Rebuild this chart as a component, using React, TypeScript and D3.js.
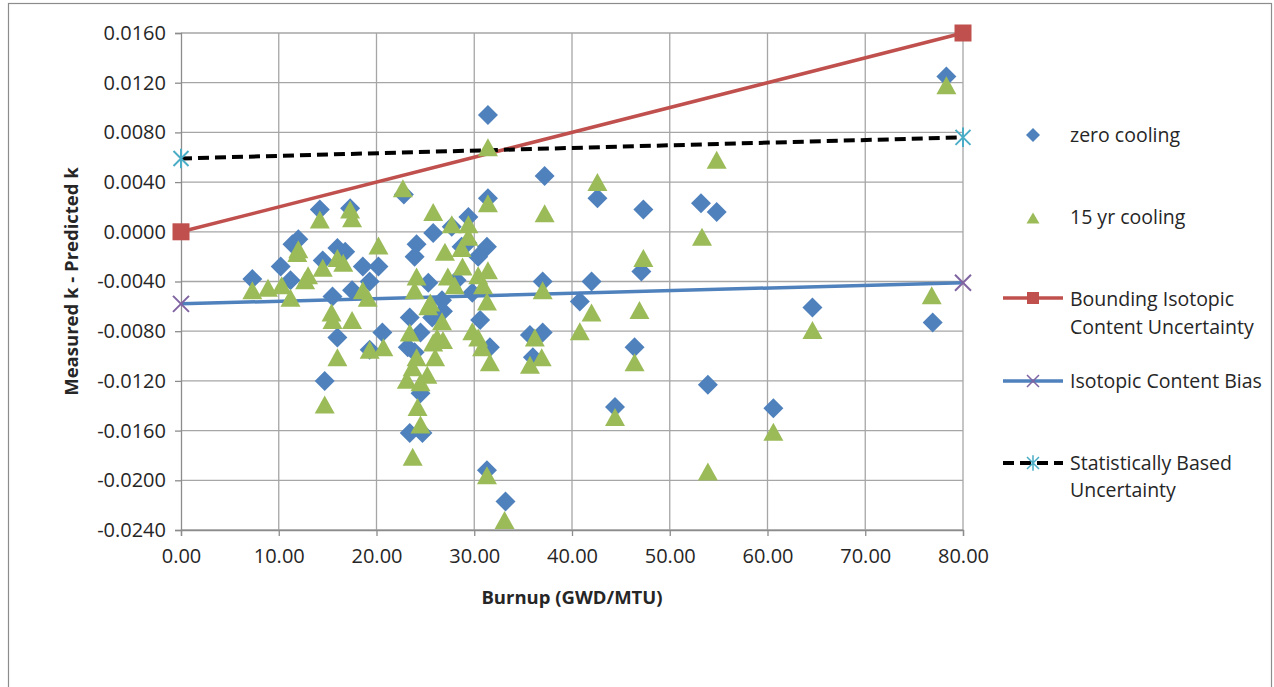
import React, { useEffect, useRef } from "react";
import * as d3 from "d3";

// zero cooling series (burnup GWD/MTU, measured k - predicted k)
const zeroBurnup = [7.3, 10.2, 11.2, 11.4, 12.0, 14.2, 14.5, 15.5, 14.7, 16.0, 16.0, 16.8, 17.3, 17.5, 18.6, 20.2, 19.3, 20.6, 19.3, 22.8, 23.2, 23.9, 24.1, 23.9, 23.4, 24.5, 23.4, 24.7, 24.5, 25.3, 25.8, 25.7, 26.8, 26.7, 27.7, 28.2, 28.7, 29.3, 29.4, 29.8, 30.4, 30.6, 31.3, 31.4, 31.4, 31.6, 31.3, 33.2, 35.7, 36.0, 37.0, 37.0, 37.2, 40.8, 42.0, 42.6, 44.4, 46.4, 47.1, 47.3, 53.2, 53.9, 54.8, 60.6, 64.6, 76.9, 78.3];
const zeroDelta = [-0.0038, -0.0028, -0.0039, -0.0010, -0.0006, 0.0018, -0.0023, -0.0052, -0.0120, -0.0085, -0.0013, -0.0016, 0.0019, -0.0047, -0.0028, -0.0028, -0.0040, -0.0081, -0.0095, 0.0030, -0.0093, -0.0097, -0.0010, -0.0020, -0.0069, -0.0081, -0.0162, -0.0162, -0.0130, -0.0041, -0.0001, -0.0069, -0.0064, -0.0055, 0.0004, -0.0039, -0.0012, -0.0009, 0.0012, -0.0049, -0.0020, -0.0071, -0.0012, 0.0027, 0.0094, -0.0093, -0.0192, -0.0217, -0.0083, -0.0101, -0.0081, -0.0040, 0.0045, -0.0056, -0.0040, 0.0027, -0.0141, -0.0093, -0.0032, 0.0018, 0.0023, -0.0123, 0.0016, -0.0142, -0.0061, -0.0073, 0.0125];

// 15 yr cooling series
const coolBurnup = [7.3, 8.9, 10.3, 11.2, 11.9, 12.0, 12.7, 13.0, 14.2, 14.5, 15.4, 15.5, 14.7, 16.0, 16.0, 16.6, 17.3, 17.5, 17.5, 18.6, 19.1, 19.3, 20.2, 20.7, 22.7, 23.1, 23.7, 23.4, 23.7, 23.9, 24.1, 24.1, 24.2, 24.5, 24.5, 25.2, 25.3, 25.5, 25.8, 25.8, 26.0, 26.2, 26.7, 26.8, 27.0, 27.3, 27.7, 28.0, 28.8, 28.7, 29.4, 29.4, 29.8, 30.4, 30.4, 30.8, 30.9, 31.3, 31.4, 31.4, 31.4, 31.6, 31.3, 33.1, 35.7, 36.2, 36.9, 37.0, 37.2, 40.8, 42.0, 42.6, 44.4, 46.4, 46.9, 47.3, 53.3, 53.9, 54.8, 60.6, 64.6, 76.8, 78.3];
const coolDelta = [-0.0047, -0.0045, -0.0043, -0.0053, -0.0017, -0.0014, -0.0039, -0.0035, 0.0010, -0.0029, -0.0065, -0.0071, -0.0139, -0.0101, -0.0021, -0.0025, 0.0018, 0.0011, -0.0071, -0.0047, -0.0053, -0.0095, -0.0011, -0.0093, 0.0035, -0.0119, -0.0181, -0.0081, -0.0109, -0.0047, -0.0036, -0.0101, -0.0141, -0.0121, -0.0155, -0.0115, -0.0060, -0.0057, 0.0016, -0.0089, -0.0101, -0.0085, -0.0072, -0.0087, -0.0016, -0.0036, 0.0006, -0.0043, -0.0028, -0.0013, 0.0006, -0.0004, -0.0080, -0.0035, -0.0085, -0.0093, -0.0043, -0.0056, -0.0031, 0.0068, 0.0023, -0.0105, -0.0196, -0.0232, -0.0107, -0.0085, -0.0101, -0.0047, 0.0015, -0.0080, -0.0065, 0.0040, -0.0149, -0.0105, -0.0063, -0.0021, -0.0004, -0.0193, 0.0058, -0.0161, -0.0079, -0.0051, 0.0118];

// limit lines
const lineBurnup = [0, 80];
const boundingDelta = [0, 0.016];
const biasDelta = [-0.0058, -0.0041];
const statDelta = [0.0059, 0.0076];

const xTicks = [0, 10, 20, 30, 40, 50, 60, 70, 80];
const yTicks = [0.016, 0.012, 0.008, 0.004, 0, -0.004, -0.008, -0.012, -0.016, -0.02, -0.024];

const FONT = "'Open Sans', 'Liberation Sans', sans-serif";
const BLUE = "#4f81bd";
const GREEN = "#9bbb59";
const RED = "#c0504d";
const PURPLE = "#8064a2";
const CYAN = "#4bacc6";
const GRID = "#a6a6a6";

const diamond = (r: number) => `M0,${-r}L${r},0L0,${r}L${-r},0Z`;
const triangle = (w: number, h: number) => `M0,${-h / 2}L${w / 2},${h / 2}L${-w / 2},${h / 2}Z`;
const cross = (r: number) => `M${-r},${-r}L${r},${r}M${-r},${r}L${r},${-r}`;
const star = (r: number) => `M${-r},${-r}L${r},${r}M${-r},${r}L${r},${-r}M0,${-r * 1.3}L0,${r * 1.3}`;

const App = () => {
  const ref = useRef<SVGSVGElement | null>(null);

  useEffect(() => {
    const svg = d3.select(ref.current);
    svg.selectAll("*").remove();

    const x = d3.scaleLinear().domain([0, 80]).range([181, 963]);
    const y = d3.scaleLinear().domain([-0.024, 0.016]).range([530, 33]);

    // outer chart border
    svg
      .append("rect")
      .attr("x", 8.5)
      .attr("y", 3.5)
      .attr("width", 1263)
      .attr("height", 720)
      .attr("fill", "white")
      .attr("stroke", "#8c8c8c")
      .attr("stroke-width", 1.2);

    // gridlines
    svg
      .append("g")
      .selectAll("line")
      .data(yTicks)
      .enter()
      .append("line")
      .attr("x1", x(0))
      .attr("x2", x(80))
      .attr("y1", (d) => y(d))
      .attr("y2", (d) => y(d))
      .attr("stroke", GRID)
      .attr("stroke-width", 1.3);

    svg
      .append("g")
      .selectAll("line")
      .data(xTicks.slice(1))
      .enter()
      .append("line")
      .attr("x1", (d) => x(d))
      .attr("x2", (d) => x(d))
      .attr("y1", y(0.016))
      .attr("y2", y(-0.024))
      .attr("stroke", GRID)
      .attr("stroke-width", 1.3);

    // axes
    const yAxis = svg
      .append("g")
      .attr("transform", `translate(${x(0)},0)`)
      .call(
        d3
          .axisLeft(y)
          .tickValues(yTicks)
          .tickSizeOuter(0)
          .tickSize(6)
          .tickPadding(9)
          .tickFormat((d) => (+d).toFixed(4))
      );
    const xAxis = svg
      .append("g")
      .attr("transform", `translate(0,${y(-0.024)})`)
      .call(
        d3
          .axisBottom(x)
          .tickValues(xTicks)
          .tickSizeOuter(0)
          .tickSize(6)
          .tickPadding(13)
          .tickFormat((d) => (+d).toFixed(2))
      );
    [xAxis, yAxis].forEach((g) => {
      g.selectAll("path, line").attr("stroke", "#8c8c8c").attr("stroke-width", 1.3);
      g.selectAll("text")
        .attr("fill", "#262626")
        .style("font-family", FONT)
        .style("font-size", "20px");
    });

    // axis titles
    svg
      .append("text")
      .attr("x", x(40))
      .attr("y", 604)
      .attr("text-anchor", "middle")
      .style("font-family", FONT)
      .style("font-size", "18.5px")
      .style("font-weight", "bold")
      .attr("fill", "#262626")
      .text("Burnup (GWD/MTU)");

    svg
      .append("text")
      .attr("transform", `translate(78,${(y(0.016) + y(-0.024)) / 2}) rotate(-90)`)
      .attr("text-anchor", "middle")
      .style("font-family", FONT)
      .style("font-size", "18.5px")
      .style("font-weight", "bold")
      .attr("fill", "#262626")
      .text("Measured k - Predicted k");

    // limit lines
    const line = d3
      .line<number>()
      .x((_, i) => x(lineBurnup[i]))
      .y((d) => y(d));

    svg
      .append("path")
      .attr("d", line(boundingDelta))
      .attr("fill", "none")
      .attr("stroke", RED)
      .attr("stroke-width", 3.5);
    svg
      .append("path")
      .attr("d", line(biasDelta))
      .attr("fill", "none")
      .attr("stroke", BLUE)
      .attr("stroke-width", 3.5);
    svg
      .append("path")
      .attr("d", line(statDelta))
      .attr("fill", "none")
      .attr("stroke", "black")
      .attr("stroke-width", 4)
      .attr("stroke-dasharray", "11,6");

    // end markers
    boundingDelta.forEach((d, i) => {
      svg
        .append("rect")
        .attr("x", x(lineBurnup[i]) - 8.5)
        .attr("y", y(d) - 8.5)
        .attr("width", 17)
        .attr("height", 17)
        .attr("fill", RED);
    });
    biasDelta.forEach((d, i) => {
      svg
        .append("path")
        .attr("transform", `translate(${x(lineBurnup[i])},${y(d)})`)
        .attr("d", cross(8))
        .attr("stroke", PURPLE)
        .attr("stroke-width", 2)
        .attr("fill", "none");
    });
    statDelta.forEach((d, i) => {
      svg
        .append("path")
        .attr("transform", `translate(${x(lineBurnup[i])},${y(d)})`)
        .attr("d", star(7.5))
        .attr("stroke", CYAN)
        .attr("stroke-width", 2)
        .attr("fill", "none");
    });

    // scatter points
    svg
      .append("g")
      .selectAll("path")
      .data(zeroDelta)
      .enter()
      .append("path")
      .attr("transform", (d, i) => `translate(${x(zeroBurnup[i])},${y(d)})`)
      .attr("d", diamond(10))
      .attr("fill", BLUE);

    svg
      .append("g")
      .selectAll("path")
      .data(coolDelta)
      .enter()
      .append("path")
      .attr("transform", (d, i) => `translate(${x(coolBurnup[i])},${y(d)})`)
      .attr("d", triangle(20, 18))
      .attr("fill", GREEN);

    // legend
    const legend = svg.append("g");
    const lx = 1033;
    const tx = 1070;
    const addText = (t: string, ty: number) =>
      legend
        .append("text")
        .attr("x", tx)
        .attr("y", ty)
        .attr("dy", "0.35em")
        .style("font-family", FONT)
        .style("font-size", "19.5px")
        .attr("fill", "#262626")
        .text(t);

    legend
      .append("path")
      .attr("transform", `translate(${lx},135)`)
      .attr("d", diamond(7))
      .attr("fill", BLUE);
    addText("zero cooling", 135);

    legend
      .append("path")
      .attr("transform", `translate(${lx},218)`)
      .attr("d", triangle(13, 11))
      .attr("fill", GREEN);
    addText("15 yr cooling", 217);

    legend
      .append("line")
      .attr("x1", 1003)
      .attr("x2", 1063)
      .attr("y1", 298)
      .attr("y2", 298)
      .attr("stroke", RED)
      .attr("stroke-width", 3.5);
    legend
      .append("rect")
      .attr("x", lx - 6)
      .attr("y", 292)
      .attr("width", 12)
      .attr("height", 12)
      .attr("fill", RED);
    addText("Bounding Isotopic", 299);
    addText("Content Uncertainty", 327);

    legend
      .append("line")
      .attr("x1", 1003)
      .attr("x2", 1063)
      .attr("y1", 381)
      .attr("y2", 381)
      .attr("stroke", BLUE)
      .attr("stroke-width", 3.5);
    legend
      .append("path")
      .attr("transform", `translate(${lx},381)`)
      .attr("d", cross(6))
      .attr("stroke", PURPLE)
      .attr("stroke-width", 1.5)
      .attr("fill", "none");
    addText("Isotopic Content Bias", 381);

    legend
      .append("line")
      .attr("x1", 1003)
      .attr("x2", 1063)
      .attr("y1", 463)
      .attr("y2", 463)
      .attr("stroke", "black")
      .attr("stroke-width", 4)
      .attr("stroke-dasharray", "11,6");
    legend
      .append("path")
      .attr("transform", `translate(${lx},463)`)
      .attr("d", star(6))
      .attr("stroke", CYAN)
      .attr("stroke-width", 1.5)
      .attr("fill", "none");
    addText("Statistically Based", 463);
    addText("Uncertainty", 490);
  }, []);

  return (
    <svg
      ref={ref}
      width={1274}
      height={687}
      style={{ position: "absolute", left: 0, top: 0, display: "block" }}
    />
  );
};

export default App;
